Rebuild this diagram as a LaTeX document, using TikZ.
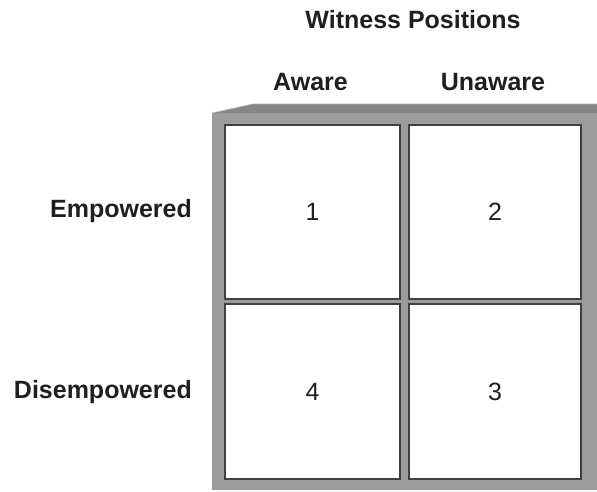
\documentclass[tikz,border=0pt]{standalone}
\usepackage{fontspec}
\setmainfont{Liberation Sans}
\begin{document}
\begin{tikzpicture}[x=1pt,y=-1pt,
  labeltext/.style={font=\fontsize{25}{30}\selectfont\bfseries, text=black!88, inner sep=0pt},
  cell/.style={draw=black!75, line width=1.1pt, fill=white, inner sep=0pt,
               minimum width=175pt, minimum height=174pt,
               font=\fontsize{25}{30}\selectfont, text=black!88},
]
\useasboundingbox (0,0) rectangle (597,491);

% frame: grey tray with a bevelled top edge
\fill[black!39] (212,113) rectangle (597,490);
\fill[black!47] (212,113) -- (253,104) -- (597,104) -- (597,113) -- cycle;
\draw[black!30, line width=0.6pt] (212,113) -- (253,104) -- (597,104);

% the four quadrants
\node[cell, minimum width=175pt] (c1) at (312.5,212) {1};
\node[cell, minimum width=172pt] (c2) at (495,212) {2};
\node[cell, minimum width=175pt, minimum height=175pt] (c4) at (312.5,391.5) {4};
\node[cell, minimum width=172pt, minimum height=175pt] (c3) at (495,391.5) {3};

% headings
\node[labeltext, anchor=base] (title) at (413,28) {Witness Positions};
\node[labeltext, anchor=base] (aware) at (310.5,90) {Aware};
\node[labeltext, anchor=base] (unaware) at (493,90) {Unaware};
\node[labeltext, anchor=base east] (emp) at (192,217) {Empowered};
\node[labeltext, anchor=base east] (disemp) at (192,398) {Disempowered};
\end{tikzpicture}
\end{document}
